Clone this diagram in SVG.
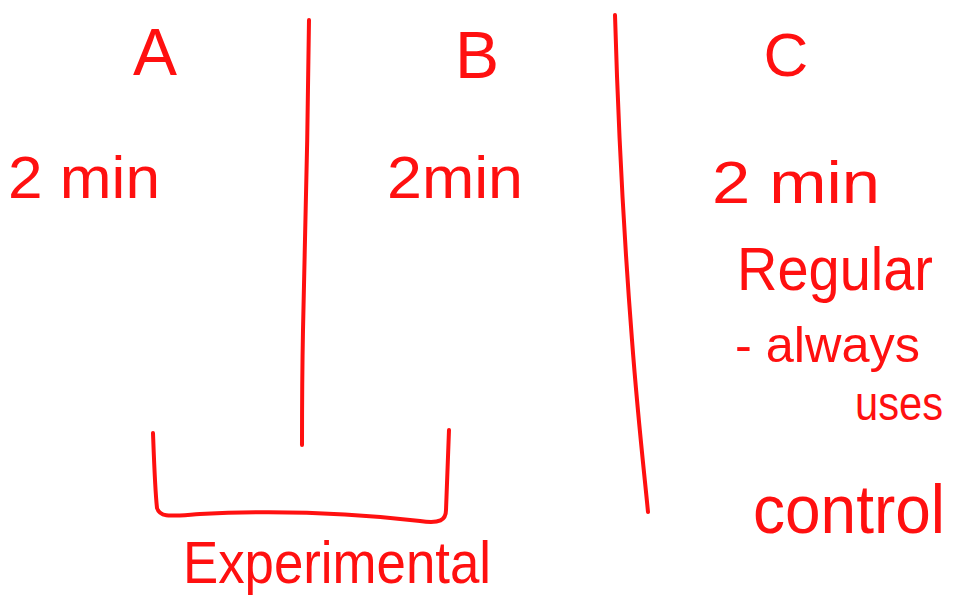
<svg xmlns="http://www.w3.org/2000/svg" width="959" height="598" viewBox="0 0 959 598">
<style>
.t{font-family:"Liberation Sans",Arial,sans-serif;fill:#ff1010;font-weight:normal}
.ln{fill:none;stroke:#ff1010;stroke-width:4;stroke-linecap:round;stroke-linejoin:round}
</style>
<rect width="959" height="598" fill="#ffffff"/>
<g id="connectors">
<path class="ln" d="M309,20 C308,120 305,250 303,330 C302,380 302,420 302,445"/>
<path class="ln" d="M615,15 C618,120 625,250 632,340 C638,420 645,480 648,512"/>
<path class="ln" d="M153,433 C154,460 155,490 157,508 C160,518 170,516 200,514 C280,510 360,514 420,521 C440,524 446,520 446,510 C447,480 448,450 449,430"/>
</g>
<g id="colA">
<text class="t" x="155" y="75" font-size="66" text-anchor="middle">A</text>
<text class="t" x="8" y="198" font-size="60" textLength="152" lengthAdjust="spacingAndGlyphs">2 min</text>
</g>
<g id="colB">
<text class="t" x="477" y="78" font-size="66" text-anchor="middle">B</text>
<text class="t" x="387" y="198" font-size="60" textLength="136" lengthAdjust="spacingAndGlyphs">2min</text>
</g>
<g id="colC">
<text class="t" x="786" y="76" font-size="62" text-anchor="middle">C</text>
<text class="t" x="712" y="203" font-size="60" textLength="168" lengthAdjust="spacingAndGlyphs">2 min</text>
<text class="t" x="737" y="290" font-size="62" textLength="196" lengthAdjust="spacingAndGlyphs">Regular</text>
<text class="t" x="735" y="362" font-size="50" textLength="185" lengthAdjust="spacingAndGlyphs">- always</text>
<text class="t" x="855" y="420" font-size="48" textLength="88" lengthAdjust="spacingAndGlyphs">uses</text>
<text class="t" x="753" y="533" font-size="68" textLength="192" lengthAdjust="spacingAndGlyphs">control</text>
</g>
<g id="experimental">
<text class="t" x="183" y="583" font-size="60" textLength="308" lengthAdjust="spacingAndGlyphs">Experimental</text>
</g>
</svg>
